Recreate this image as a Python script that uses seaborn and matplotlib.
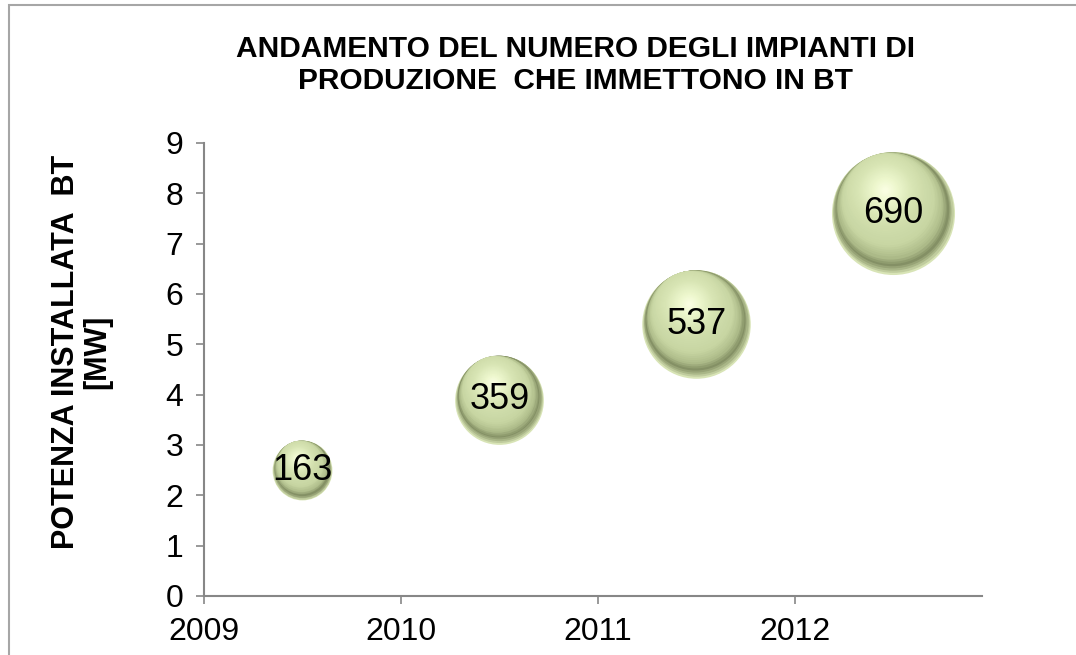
import numpy as np
import pandas as pd
import matplotlib
matplotlib.use('Agg')
import matplotlib.pyplot as plt
import matplotlib.transforms as mtransforms
from matplotlib.colors import LinearSegmentedColormap
from matplotlib.patches import Rectangle
import seaborn as sns

# data
anno = [2009.5, 2010.5, 2011.5, 2012.5]
potenza_mw = [2.5, 3.9, 5.4, 7.6]
n_impianti = [163, 359, 537, 690]
x_ticks = [2009, 2010, 2011, 2012]
y_ticks = list(range(0, 10))

df = pd.DataFrame({'anno': anno, 'potenza': potenza_mw, 'impianti': n_impianti})

sns.set_theme(style='white')
plt.rcParams['font.family'] = ['Liberation Sans', 'DejaVu Sans']
plt.rcParams['text.color'] = 'black'

fig = plt.figure(figsize=(10.76, 6.55), dpi=100)
ax = fig.add_axes([0.1896, 0.0901, 0.7230, 0.6916])

# sphere shading: stacked discs, shrinking towards the highlight
shade = LinearSegmentedColormap.from_list('sfera', [
    (0.0, '#fcffe6'), (0.2, '#edf7cd'), (0.45, '#d8e5b4'), (0.75, '#c8d6a3'),
    (0.86, '#aebc8a'), (0.92, '#838f64'), (0.965, '#adba8b'), (1.0, '#d8e4b6')])
s_max = 7850
vmax = max(n_impianti)
direzione = np.array([-0.35, 0.94])
direzione = direzione / np.linalg.norm(direzione)
fattori = np.linspace(1.0, 0.04, 50)

for i in range(len(df)):
    sub = df.iloc[[i]]
    r_pt = np.sqrt(s_max * n_impianti[i] / vmax) / 2
    for f in fattori:
        d = min(1 - f, 0.4) * r_pt
        dx, dy = direzione * d
        tr = ax.transData + mtransforms.ScaledTranslation(dx / 72, dy / 72, fig.dpi_scale_trans)
        sns.scatterplot(data=sub, x='anno', y='potenza', size='impianti',
                        sizes=(0, s_max * f ** 2), size_norm=(0, vmax),
                        color=shade(f), linewidth=0, legend=False,
                        transform=tr, ax=ax, zorder=3)
    ax.text(anno[i], potenza_mw[i], str(n_impianti[i]), ha='center', va='center',
            fontsize=26, color='black', zorder=5)

ax.set_xlim(2009, 2012.95)
ax.set_ylim(0, 9)
ax.set_xticks(x_ticks)
ax.set_yticks(y_ticks)
ax.set_xticklabels([str(t) for t in x_ticks])
ax.tick_params(axis='both', labelsize=23, colors='#878787', labelcolor='black',
               direction='out', length=6, width=1.2, pad=9,
               bottom=True, left=True)
for side in ['top', 'right']:
    ax.spines[side].set_visible(False)
for side in ['left', 'bottom']:
    ax.spines[side].set_color('#878787')
    ax.spines[side].set_linewidth(1.5)
ax.set_xlabel('')
ax.set_ylabel('')

fig.text(82 / 1076, 1 - 352 / 655, 'POTENZA INSTALLATA  BT\n[MW]', rotation=90,
         ha='center', va='center', fontsize=22, fontweight='bold', multialignment='center',
         linespacing=1.05, color='black')

fig.text(575 / 1076, 1 - 65 / 655, 'ANDAMENTO DEL NUMERO DEGLI IMPIANTI DI\nPRODUZIONE  CHE IMMETTONO IN BT',
         ha='center', va='center', fontsize=21.5, fontweight='bold', linespacing=1.15, color='black')

fig.patches.append(Rectangle((9 / 1076, -0.1), 1.2, 1 - 5 / 655 + 0.1, transform=fig.transFigure,
                             fill=False, edgecolor='#a6a6a6', linewidth=1.5, figure=fig))

fig.savefig('out.png', dpi=100)
